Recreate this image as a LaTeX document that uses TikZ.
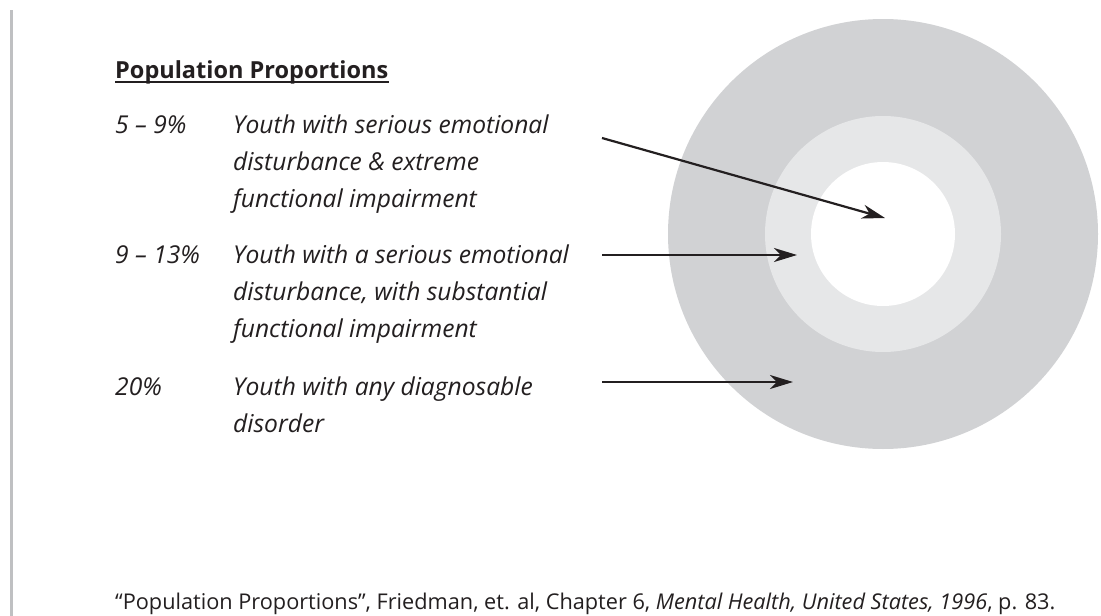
\documentclass[tikz,border=0pt]{standalone}
\usepackage{fontspec}
\setmainfont{Open Sans}
\usetikzlibrary{arrows.meta}
\definecolor{ringout}{HTML}{D1D2D4}
\definecolor{ringmid}{HTML}{E6E7E8}
\definecolor{ink}{HTML}{231F20}
\definecolor{sidebar}{HTML}{BFC0C2}
\begin{document}
\begin{tikzpicture}[x=1pt,y=-1pt,
  txt/.style={anchor=base west,inner sep=0pt,font=\fontsize{24.6}{30}\selectfont\itshape,text=ink},
  arr/.style={draw=ink,line width=2.2pt,-{Stealth[length=23pt,width=14pt,inset=7pt]}}]
\useasboundingbox (0,0) rectangle (1101,616);
\fill[white] (0,0) rectangle (1101,616);
% side rule
\draw[sidebar,line width=3pt] (11,10) -- (11,616);
% rings
\fill[ringout] (883,234) circle[radius=215];
\fill[ringmid] (883,234) circle[radius=118];
\fill[white] (883,234) circle[radius=72];
% heading
\node[anchor=base west,inner sep=0pt,font=\fontsize{23.5}{28}\selectfont\bfseries,text=ink] (head) at (115,78) {Population Proportions};
\draw[ink,line width=2pt] ([yshift=-4pt]head.base west) -- ([yshift=-4pt]head.base east);
% group 1
\node[txt] (p1) at (115,133) {5 -- 9\%};
\node[txt] (d1a) at (233,133) {Youth with serious emotional};
\node[txt] (d1b) at (233,170) {disturbance \& extreme};
\node[txt] (d1c) at (233,207) {functional impairment};
% group 2
\node[txt] (p2) at (115,263) {9 -- 13\%};
\node[txt] (d2a) at (233,263) {Youth with a serious emotional};
\node[txt] (d2b) at (233,300) {disturbance, with substantial};
\node[txt] (d2c) at (233,337) {functional impairment};
% group 3
\node[txt] (p3) at (115,395) {20\%};
\node[txt] (d3a) at (233,395) {Youth with any diagnosable};
\node[txt] (d3b) at (233,432) {disorder};
% arrows
\coordinate (s1) at (602,138);
\coordinate (t1) at (885,218);
\coordinate (s2) at (602,255);
\coordinate (t2) at (797,255);
\coordinate (s3) at (602,382);
\coordinate (t3) at (793,382);
\draw[arr] (s1) -- (t1);
\draw[arr] (s2) -- (t2);
\draw[arr] (s3) -- (t3);
% citation
\node[anchor=base west,inner sep=0pt,font=\fontsize{21.7}{24}\selectfont,text=ink] (cite) at (115,609)
  {“Population Proportions”, Friedman, et. al, Chapter 6, \textit{Mental Health, United States, 1996}, p. 83.};
\end{tikzpicture}
\end{document}
